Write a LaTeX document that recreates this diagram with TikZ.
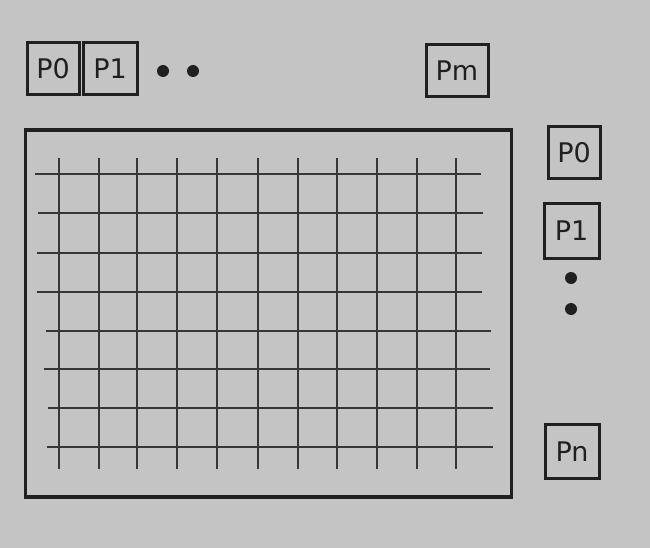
\documentclass[tikz,border=0pt]{standalone}
\usepackage{fontspec}
\setmainfont{DejaVu Sans}
\definecolor{bg}{RGB}{196,196,196}
\definecolor{ink}{RGB}{32,32,32}
\begin{document}
\begin{tikzpicture}[x=1pt,y=-1pt,
  pbox/.style={draw=ink,line width=3pt,fill=bg,inner sep=0pt,minimum height=52pt,font=\fontsize{27}{27}\selectfont,text=ink},
  gridline/.style={draw=ink!90,line width=2.4pt},
  dotmark/.style={fill=ink,draw=none}]
\fill[bg] (0,0) rectangle (650,548);
\useasboundingbox (0,0) rectangle (650,548);
% frame
\node[draw=ink,line width=3.5pt,minimum width=486pt,minimum height=367pt,inner sep=0pt] (frame) at (268.5,313.5) {};
% horizontal grid lines
\foreach \y/\a/\b in {174/35/481, 213/38/483, 253/37/482, 292/37/482, 331/46/491, 369/44/490, 408/48/493, 447/47/493}
  \draw[gridline] (\a,\y) -- (\b,\y);
% vertical grid lines
\foreach \x in {59,99,137,177,217,258,298,337,377,417,456}
  \draw[gridline] (\x,158) -- (\x,469);
% top boxes
\node[pbox,minimum width=52pt] (tp0) at (53,69) {P0};
\node[pbox,minimum width=54pt] (tp1) at (110,69) {P1};
\node[pbox,minimum width=62pt] (tpm) at (457,71) {Pm};
\fill[dotmark] (163,71) circle (6pt);
\fill[dotmark] (193,71) circle (6pt);
% right boxes
\node[pbox,minimum width=52pt] (rp0) at (574,152.5) {P0};
\node[pbox,minimum width=55pt,minimum height=55pt] (rp1) at (571.5,230.5) {P1};
\node[pbox,minimum width=54pt,minimum height=54pt] (rpn) at (572,451.5) {Pn};
\fill[dotmark] (571,278) circle (6pt);
\fill[dotmark] (571,309) circle (6pt);
\end{tikzpicture}
\end{document}
